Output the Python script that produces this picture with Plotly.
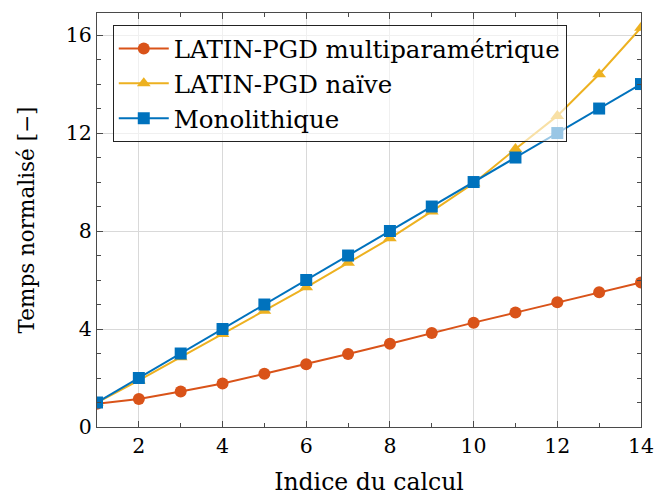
import plotly.graph_objects as go

x_idx = list(range(1, 15))
multi = [0.95, 1.14, 1.45, 1.78, 2.17, 2.56, 2.98, 3.40, 3.84, 4.26, 4.67, 5.09, 5.50, 5.90]
naive = [1.0, 1.9, 2.85, 3.8, 4.75, 5.7, 6.7, 7.7, 8.8, 9.95, 11.35, 12.7, 14.4, 16.3]
mono = [1, 2, 3, 4, 5, 6, 7, 8, 9, 10, 11, 12, 13, 14]
names = ["LATIN-PGD multiparamétrique", "LATIN-PGD naïve", "Monolithique"]
x_ticks = [2, 4, 6, 8, 10, 12, 14]
y_ticks = [0, 4, 8, 12, 16]

FONT = "DejaVu Serif"
fig = go.Figure()
fig.add_trace(go.Scatter(x=x_idx, y=multi, name=names[0], mode="lines+markers",
                         line=dict(color="#D95319", width=2),
                         marker=dict(symbol="circle", size=12, color="#D95319")))
fig.add_trace(go.Scatter(x=x_idx, y=naive, name=names[1], mode="lines+markers",
                         line=dict(color="#EDB120", width=2),
                         marker=dict(symbol="triangle-up", size=12, color="#EDB120")))
fig.add_trace(go.Scatter(x=x_idx, y=mono, name=names[2], mode="lines+markers",
                         line=dict(color="#0072BD", width=2),
                         marker=dict(symbol="square", size=12, color="#0072BD")))

axis_common = dict(showline=True, linecolor="#4a4a4a", linewidth=1.2, mirror="allticks",
                   ticks="inside", ticklen=6, tickcolor="#4a4a4a", automargin=False,
                   showgrid=True, gridcolor="#d9d9d9", gridwidth=1, zeroline=False,
                   ticklabeloverflow="allow",
                   tickfont=dict(family=FONT, size=20.5, color="black"),
                   minor=dict(ticks="inside", ticklen=4, tickcolor="#4a4a4a", dtick=1, showgrid=False))

fig.update_xaxes(range=[1, 14], tickvals=x_ticks,
                 title=dict(text="Indice du calcul", font=dict(family=FONT, size=23.5, color="black"), standoff=24),
                 **axis_common)
fig.update_yaxes(range=[0, 16.9], tickvals=y_ticks,
                 title=dict(text="Temps normalisé [−]", font=dict(family=FONT, size=21.5, color="black"), standoff=25),
                 **axis_common)

fig.update_layout(
    width=654, height=496,
    margin=dict(l=97, r=13, t=13, b=69),
    plot_bgcolor="white", paper_bgcolor="white",
    font=dict(family=FONT, color="black"),
    legend=dict(x=0.029, y=0.971, xanchor="left", yanchor="top",
                bgcolor="rgba(255,255,255,0.6)", bordercolor="#222222", borderwidth=1,
                itemwidth=50,
                font=dict(family=FONT, size=24.5, color="black"), tracegroupgap=0),
    showlegend=True,
)
fig.write_html("out.html", config={"displayModeBar": False},
               post_script="document.body.style.margin='0px';")
